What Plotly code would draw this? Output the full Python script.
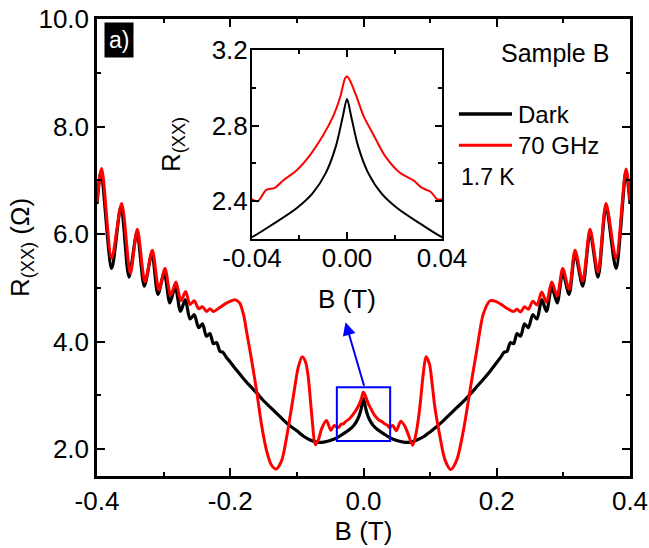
import plotly.graph_objects as go

# ---------------- data ----------------
b_dark = [
    -0.4000, -0.3940, -0.3780, -0.3640, -0.3520, -0.3400, -0.3290, -0.3175, -0.3086, -0.2990,
    -0.2907, -0.2825, -0.2747, -0.2675, -0.2604, -0.2540, -0.2475, -0.2417, -0.2358, -0.2305,
    -0.2252, -0.2204, -0.2155, -0.2110, -0.2060, -0.2000, -0.1900, -0.1800, -0.1700, -0.1600,
    -0.1500, -0.1400, -0.1300, -0.1200, -0.1100, -0.1000, -0.0900, -0.0800, -0.0700, -0.0600,
    -0.0500, -0.0400, -0.0310, -0.0215, -0.0146, -0.0089, -0.0047, -0.0019, 0.0000,
    0.0019, 0.0047, 0.0089, 0.0146, 0.0215, 0.0310, 0.0400, 0.0500, 0.0600, 0.0700,
    0.0800, 0.0900, 0.1000, 0.1100, 0.1200, 0.1300, 0.1400, 0.1500, 0.1600, 0.1700,
    0.1800, 0.1900, 0.2000, 0.2060, 0.2110, 0.2155, 0.2204, 0.2252, 0.2305, 0.2358,
    0.2417, 0.2475, 0.2540, 0.2604, 0.2675, 0.2747, 0.2825, 0.2907, 0.2990, 0.3086,
    0.3175, 0.3290, 0.3400, 0.3520, 0.3640, 0.3790, 0.3940, 0.4000,
]
r_dark = [
    6.56, 7.16, 5.36, 6.52, 5.20, 6.03, 5.03, 5.64, 4.88, 5.28,
    4.72, 5.02, 4.56, 4.78, 4.42, 4.50, 4.26, 4.33, 4.10, 4.15,
    3.96, 3.98, 3.82, 3.80, 3.71, 3.62, 3.46, 3.31, 3.17, 3.04,
    2.90, 2.78, 2.66, 2.54, 2.43, 2.34, 2.24, 2.17, 2.13, 2.13,
    2.16, 2.21, 2.28, 2.36, 2.44, 2.55, 2.69, 2.84, 2.94,
    2.84, 2.69, 2.55, 2.44, 2.36, 2.28, 2.21, 2.16, 2.13, 2.13,
    2.17, 2.23, 2.32, 2.42, 2.53, 2.65, 2.77, 2.89, 3.02, 3.16,
    3.30, 3.45, 3.61, 3.71, 3.80, 3.82, 3.98, 3.96, 4.15, 4.10,
    4.33, 4.26, 4.50, 4.42, 4.78, 4.56, 5.02, 4.72, 5.28, 4.88,
    5.64, 5.03, 6.03, 5.20, 6.52, 5.36, 7.16, 6.56,
]

b_70ghz = [
    -0.4000, -0.3930, -0.3780, -0.3630, -0.3500, -0.3395, -0.3280, -0.3170, -0.3070, -0.2980,
    -0.2895, -0.2815, -0.2740, -0.2670, -0.2604, -0.2540, -0.2475, -0.2417, -0.2358, -0.2305,
    -0.2252, -0.2150, -0.2050, -0.1930, -0.1860, -0.1800, -0.1750, -0.1680, -0.1600, -0.1530,
    -0.1450, -0.1380, -0.1310, -0.1230, -0.1160, -0.1100, -0.1050, -0.0980, -0.0920, -0.0870,
    -0.0830, -0.0780, -0.0720, -0.0670, -0.0628, -0.0555, -0.0490, -0.0440, -0.0400, -0.0375,
    -0.0340, -0.0304, -0.0269, -0.0215, -0.0158, -0.0100, -0.0058, -0.0029, -0.0008, 0.0000,
    0.0012, 0.0041, 0.0070, 0.0112, 0.0160, 0.0223, 0.0280, 0.0316, 0.0352, 0.0380,
    0.0400, 0.0440, 0.0490, 0.0560, 0.0620, 0.0670, 0.0738, 0.0790, 0.0840, 0.0898,
    0.0938, 0.0990, 0.1030, 0.1070, 0.1148, 0.1223, 0.1309, 0.1400, 0.1500, 0.1600,
    0.1700, 0.1800, 0.1900, 0.2000, 0.2080, 0.2150, 0.2252, 0.2305, 0.2358, 0.2417,
    0.2475, 0.2540, 0.2604, 0.2675, 0.2747, 0.2825, 0.2907, 0.2990, 0.3086, 0.3175,
    0.3290, 0.3400, 0.3520, 0.3640, 0.3790, 0.3940, 0.4000,
]
r_70ghz = [
    6.60, 7.22, 5.55, 6.57, 5.27, 6.09, 5.11, 5.70, 4.96, 5.36,
    4.86, 5.11, 4.76, 4.93, 4.69, 4.76, 4.61, 4.65, 4.56, 4.61,
    4.56, 4.64, 4.72, 4.78, 4.72, 4.50, 4.15, 3.66, 3.05, 2.45,
    1.95, 1.70, 1.63, 1.78, 2.18, 2.62, 3.00, 3.52, 3.72, 3.62,
    3.35, 2.68, 2.08, 2.20, 2.38, 2.53, 2.35, 2.44, 2.41, 2.40,
    2.46, 2.47, 2.51, 2.56, 2.64, 2.75, 2.85, 2.95, 3.05, 3.06,
    3.04, 2.95, 2.85, 2.75, 2.64, 2.55, 2.51, 2.47, 2.45, 2.41,
    2.41, 2.44, 2.34, 2.52, 2.43, 2.28, 2.07, 2.30, 2.72, 3.41,
    3.72, 3.58, 3.22, 2.79, 2.23, 1.80, 1.62, 1.80, 2.35, 3.10,
    3.84, 4.52, 4.76, 4.74, 4.68, 4.62, 4.56, 4.60, 4.55, 4.65,
    4.60, 4.75, 4.68, 4.92, 4.73, 5.11, 4.85, 5.36, 4.97, 5.70,
    5.12, 6.09, 5.29, 6.57, 5.55, 7.21, 6.62,
]

series_names = ["Dark", "70 GHz"]

main_xticks = [-0.4, -0.2, 0.0, 0.2, 0.4]
main_xticktext = ["-0.4", "-0.2", "0.0", "0.2", "0.4"]
main_xminor = [-0.3, -0.1, 0.1, 0.3]
main_yticks = [2, 4, 6, 8, 10]
main_yticktext = ["2.0", "4.0", "6.0", "8.0", "10.0"]
main_yminor = [3, 5, 7, 9]

inset_xticks = [-0.04, 0.0, 0.04]
inset_xticktext = ["-0.04", "0.00", "0.04"]
inset_xminor = [-0.02, 0.02]
inset_yticks = [2.4, 2.8, 3.2]
inset_yticktext = ["2.4", "2.8", "3.2"]
inset_yminor = [2.6, 3.0]

zoom_box_x = [-0.04, 0.04]
zoom_box_y = [2.15, 3.15]
arrow_tail = (0.0015, 3.15)
arrow_head = (-0.027, 4.36)

# ---------------- figure ----------------
FONT = "Liberation Sans, Arial, sans-serif"
BLACK = "#000000"
RED = "#FF0000"
BLUE = "#0000FF"
TICK_SIZE = 26
TITLE_SIZE = 26

fig = go.Figure()

# main traces
fig.add_trace(go.Scatter(x=b_dark, y=r_dark, mode="lines", name=series_names[0],
                         line=dict(color=BLACK, width=3.2, shape="spline", smoothing=0.8),
                         xaxis="x", yaxis="y", showlegend=False))
fig.add_trace(go.Scatter(x=b_70ghz, y=r_70ghz, mode="lines", name=series_names[1],
                         line=dict(color=RED, width=3.0, shape="spline", smoothing=0.8),
                         xaxis="x", yaxis="y", showlegend=False))
# inset traces
fig.add_trace(go.Scatter(x=b_dark, y=r_dark, mode="lines", name=series_names[0],
                         line=dict(color=BLACK, width=2.0, shape="spline", smoothing=0.8),
                         xaxis="x2", yaxis="y2", showlegend=False))
fig.add_trace(go.Scatter(x=b_70ghz, y=r_70ghz, mode="lines", name=series_names[1],
                         line=dict(color=RED, width=2.0, shape="spline", smoothing=0.8),
                         xaxis="x2", yaxis="y2", showlegend=False))

axis_common = dict(showline=True, linecolor=BLACK, mirror="allticks", ticks="inside",
                   tickcolor=BLACK, showgrid=False, zeroline=False, automargin=False,
                   tickfont=dict(family=FONT, size=TICK_SIZE, color=BLACK))

fig.update_layout(
    template="none",
    width=649, height=548,
    margin=dict(l=97, r=19, t=19, b=72),
    paper_bgcolor="white", plot_bgcolor="white",
    font=dict(family=FONT, size=24, color=BLACK),
    xaxis=dict(**axis_common, domain=[0, 1], range=[-0.4, 0.4], linewidth=2.5,
               tickmode="array", tickvals=main_xticks, ticktext=main_xticktext,
               ticklen=8, tickwidth=2, ticklabelstandoff=0,
               minor=dict(ticks="inside", tickvals=main_xminor, ticklen=4, tickwidth=2, tickcolor=BLACK, showgrid=False),
               title=dict(text="B (T)", font=dict(family=FONT, size=TITLE_SIZE), standoff=0)),
    yaxis=dict(**axis_common, domain=[0, 1], range=[1.5, 10.0], linewidth=2.5,
               tickmode="array", tickvals=main_yticks, ticktext=main_yticktext,
               ticklen=8, tickwidth=2,
               minor=dict(ticks="inside", tickvals=main_yminor, ticklen=4, tickwidth=2, tickcolor=BLACK, showgrid=False),
               title=dict(text="R<sub>(XX)</sub> (Ω)", font=dict(family=FONT, size=TICK_SIZE), standoff=2)),
    xaxis2=dict(**axis_common, domain=[0.2908, 0.6473], anchor="y2", range=[-0.04, 0.04], linewidth=2,
                tickmode="array", tickvals=inset_xticks, ticktext=inset_xticktext,
                ticklen=7, tickwidth=2, ticklabelstandoff=-5,
                minor=dict(ticks="inside", tickvals=inset_xminor, ticklen=4, tickwidth=2, tickcolor=BLACK, showgrid=False),
                title=dict(text="B (T)", font=dict(family=FONT, size=TICK_SIZE), standoff=18)),
    yaxis2=dict(**axis_common, domain=[0.5186, 0.9322], anchor="x2", range=[2.2, 3.2], linewidth=2,
                tickmode="array", tickvals=inset_yticks, ticktext=inset_yticktext,
                ticklen=7, tickwidth=2, ticklabelstandoff=-3,
                minor=dict(ticks="inside", tickvals=inset_yminor, ticklen=4, tickwidth=2, tickcolor=BLACK, showgrid=False),
                title=dict(text="R<sub>(XX)</sub>", font=dict(family=FONT, size=TICK_SIZE), standoff=24)),
    showlegend=False,
)

# zoom box + arrow
fig.add_shape(type="rect", xref="x", yref="y",
              x0=zoom_box_x[0], x1=zoom_box_x[1], y0=zoom_box_y[0], y1=zoom_box_y[1],
              line=dict(color=BLUE, width=2))
fig.add_annotation(xref="x", yref="y", axref="x", ayref="y",
                   x=arrow_head[0], y=arrow_head[1], ax=arrow_tail[0], ay=arrow_tail[1],
                   text="", showarrow=True, arrowhead=2, arrowsize=1.3, arrowwidth=2,
                   arrowcolor=BLUE, standoff=0, startstandoff=0)

# panel label
fig.add_annotation(xref="paper", yref="paper", x=0.0422, y=0.953, text="a)",
                   xanchor="center", yanchor="middle",
                   showarrow=False, bgcolor=BLACK, borderpad=4,
                   font=dict(family=FONT, size=23, color="white"))
fig.add_annotation(xref="paper", yref="paper", x=0.859, y=0.926, text="Sample B",
                   xanchor="center", yanchor="middle",
                   showarrow=False, font=dict(family=FONT, size=25, color=BLACK))

# legend (manual)
legend_colors = [BLACK, RED]
legend_y = [0.792, 0.724]
for name, col, yy in zip(series_names, legend_colors, legend_y):
    fig.add_shape(type="line", xref="paper", yref="paper", x0=0.679, x1=0.7786, y0=yy, y1=yy,
                  line=dict(color=col, width=3.5 if col == BLACK else 3))
    fig.add_annotation(xref="paper", yref="paper", x=0.786, y=yy, text=name,
                       xanchor="left", yanchor="middle",
                       showarrow=False, font=dict(family=FONT, size=24, color=BLACK))
fig.add_annotation(xref="paper", yref="paper", x=0.679, y=0.654, text="1.7 K",
                   xanchor="left", yanchor="middle",
                   showarrow=False, font=dict(family=FONT, size=23, color=BLACK))

fig.write_html("out.html", config={"displayModeBar": False},
               post_script="document.body.style.margin='0px';")
